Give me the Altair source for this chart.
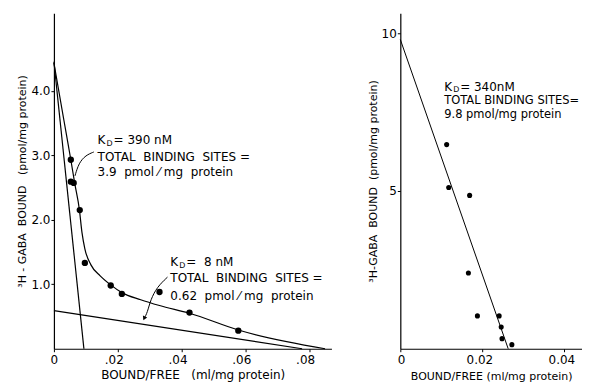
import altair as alt
import pandas as pd

FONT = "DejaVu Sans"
NB = "\u00a0"

# ---------------- left panel data ----------------
left_bf = [0.0053, 0.0053, 0.0062, 0.0081, 0.0097, 0.0178, 0.0213, 0.0331, 0.0425, 0.0578]
left_bound = [2.93, 2.59, 2.57, 2.15, 1.33, 0.98, 0.85, 0.88, 0.56, 0.28]

curve_bf = [0.0, 0.0031, 0.0053, 0.0065, 0.0080, 0.0088, 0.0097, 0.0116, 0.0145, 0.0178,
            0.0213, 0.0272, 0.0331, 0.0425, 0.0578, 0.085]
curve_bound = [4.43, 3.55, 2.93, 2.57, 2.15, 1.80, 1.55, 1.30, 1.13, 0.99,
               0.87, 0.76, 0.67, 0.55, 0.29, 0.0]

high_bf = [0.0, 0.0094]
high_bound = [4.45, 0.0]
low_bf = [0.0, 0.0778]
low_bound = [0.59, 0.0]

# ---------------- right panel data ----------------
right_bf = [0.0113, 0.0118, 0.0169, 0.0166, 0.0188, 0.0241, 0.0246, 0.0248, 0.0272]
right_bound = [6.47, 5.11, 4.86, 2.40, 1.04, 1.04, 0.69, 0.32, 0.13]
rline_bf = [0.0, 0.0263]
rline_bound = [9.8, 0.0]

# ---------------- annotations ----------------
ann_left = [
    (0.0137, 3.24, 0.0137, 2.98, 2.74, "= 390 nM", "TOTAL  BINDING  SITES =", "3.9  pmol ⁄ mg  protein"),
    (0.0365, 1.35, 0.0365, 1.10, 0.82, "=  8 nM", "TOTAL  BINDING  SITES =", "0.62  pmol ⁄ mg  protein"),
]
ann_right = (0.0107, 8.31, 7.85, 7.42, "= 340nM", "TOTAL BINDING SITES=", "9.8 pmol/mg protein")

leader1_bf = [0.0125, 0.0100, 0.0078, 0.0066]
leader1_bound = [3.05, 3.00, 2.88, 2.68]
leader2_bf = [0.0356, 0.0324, 0.0303, 0.0293, 0.0283]
leader2_bound = [1.11, 0.96, 0.76, 0.56, 0.47]


def nb(s):
    return s.replace(" ", NB)


# ---------------- left encodings ----------------
xl = alt.X("x:Q", scale=alt.Scale(domain=[0, 0.087], nice=False),
           axis=alt.Axis(values=[0, 0.02, 0.04, 0.06, 0.08],
                         labelExpr="datum.value == 0 ? '0' : '.0' + format(datum.value*100, 'd')",
                         title=nb("BOUND/FREE   (ml/mg protein)"),
                         tickSize=3, labelFontSize=12, titleFontSize=12,
                         labelPadding=3, titlePadding=4, labelOffset=-4))
yl = alt.Y("y:Q", scale=alt.Scale(domain=[0, 5.2], nice=False),
           axis=alt.Axis(values=[1, 2, 3, 4], format=".1f",
                         title=nb("³H - GABA  BOUND   (pmol/mg protein)"),
                         tickSize=3, labelFontSize=12, titleFontSize=11,
                         labelPadding=1, titlePadding=3))

def df(xs, ys, **extra):
    d = {"x": xs, "y": ys}
    d.update(extra)
    return pd.DataFrame(d)

LW = 1.2
left_layers = [
    alt.Chart(df(curve_bf, curve_bound)).mark_line(color="black", strokeWidth=LW, interpolate="monotone").encode(x=xl, y=yl),
    alt.Chart(df(high_bf, high_bound)).mark_line(color="black", strokeWidth=LW).encode(x=xl, y=yl),
    alt.Chart(df(low_bf, low_bound)).mark_line(color="black", strokeWidth=LW).encode(x=xl, y=yl),
    alt.Chart(df(left_bf, left_bound)).mark_circle(color="black", size=40, opacity=1).encode(x=xl, y=yl),
    alt.Chart(df(leader1_bf, leader1_bound, o=list(range(len(leader1_bf))))).mark_line(color="black", strokeWidth=1, interpolate="basis").encode(x=xl, y=yl, order="o:O"),
    alt.Chart(df(leader2_bf, leader2_bound, o=list(range(len(leader2_bf))))).mark_line(color="black", strokeWidth=1, interpolate="basis").encode(x=xl, y=yl, order="o:O"),
    alt.Chart(df(leader2_bf[-1:], leader2_bound[-1:])).mark_point(shape="triangle-down", filled=True, color="black", size=22, angle=25, opacity=1).encode(x=xl, y=yl),
]

kx = [a[0] for a in ann_left]
ky = [a[1] for a in ann_left]
left_layers += [
    alt.Chart(df(kx, ky, t=["K", "K"])).mark_text(align="left", baseline="middle", font=FONT, fontSize=12).encode(x=xl, y=yl, text="t:N"),
    alt.Chart(df(kx, ky, t=["D", "D"])).mark_text(align="left", baseline="middle", font=FONT, fontSize=8, dx=9, dy=4).encode(x=xl, y=yl, text="t:N"),
    alt.Chart(df(kx, ky, t=[nb(a[5]) for a in ann_left])).mark_text(align="left", baseline="middle", font=FONT, fontSize=12, dx=16).encode(x=xl, y=yl, text="t:N"),
    alt.Chart(df([a[2] for a in ann_left], [a[3] for a in ann_left], t=[nb(a[6]) for a in ann_left])).mark_text(align="left", baseline="middle", font=FONT, fontSize=12).encode(x=xl, y=yl, text="t:N"),
    alt.Chart(df([a[2] for a in ann_left], [a[4] for a in ann_left], t=[nb(a[7]) for a in ann_left])).mark_text(align="left", baseline="middle", font=FONT, fontSize=12).encode(x=xl, y=yl, text="t:N"),
]

left = alt.layer(*left_layers).properties(width=278, height=336)

# ---------------- right encodings ----------------
xr = alt.X("x:Q", scale=alt.Scale(domain=[0, 0.0443], nice=False),
           axis=alt.Axis(values=[0, 0.02, 0.04],
                         labelExpr="datum.value == 0 ? '0' : format(datum.value, '.2f')",
                         title=nb("BOUND/FREE (ml/mg protein)"),
                         tickSize=3, labelFontSize=12, titleFontSize=11,
                         labelPadding=3, titlePadding=5, labelOffset=-3))
yr = alt.Y("y:Q", scale=alt.Scale(domain=[0, 10.63], nice=False),
           axis=alt.Axis(values=[5, 10], format="d",
                         title=nb("³H-GABA  BOUND  (pmol/mg protein)"),
                         tickSize=3, labelFontSize=12, titleFontSize=11,
                         labelPadding=1, titlePadding=3))

ax, a1, a2, a3, t1, t2, t3 = ann_right
right_layers = [
    alt.Chart(df(rline_bf, rline_bound)).mark_line(color="black", strokeWidth=1).encode(x=xr, y=yr),
    alt.Chart(df(right_bf, right_bound)).mark_circle(color="black", size=26, opacity=1).encode(x=xr, y=yr),
    alt.Chart(df([ax], [a1], t=["K"])).mark_text(align="left", baseline="middle", font=FONT, fontSize=12).encode(x=xr, y=yr, text="t:N"),
    alt.Chart(df([ax], [a1], t=["D"])).mark_text(align="left", baseline="middle", font=FONT, fontSize=8, dx=9, dy=3).encode(x=xr, y=yr, text="t:N"),
    alt.Chart(df([ax], [a1], t=[nb(t1)])).mark_text(align="left", baseline="middle", font=FONT, fontSize=12, dx=16).encode(x=xr, y=yr, text="t:N"),
    alt.Chart(df([ax], [a2], t=[nb(t2)])).mark_text(align="left", baseline="middle", font=FONT, fontSize=11.5).encode(x=xr, y=yr, text="t:N"),
    alt.Chart(df([ax], [a3], t=[nb(t3)])).mark_text(align="left", baseline="middle", font=FONT, fontSize=11.5).encode(x=xr, y=yr, text="t:N"),
]
right = alt.layer(*right_layers).properties(width=182, height=336)

chart = alt.hconcat(left, right, spacing=35).properties(
    padding={"left": 8, "top": 5, "right": 0, "bottom": 0}
).configure_view(stroke=None).configure_axis(
    domainColor="black", tickColor="black", labelColor="black", titleColor="black",
    grid=False, labelFont=FONT, titleFont=FONT, titleFontWeight="normal", domainWidth=1.2,
)

chart.save("out.html", embed_options={"renderer": "svg", "actions": False})
